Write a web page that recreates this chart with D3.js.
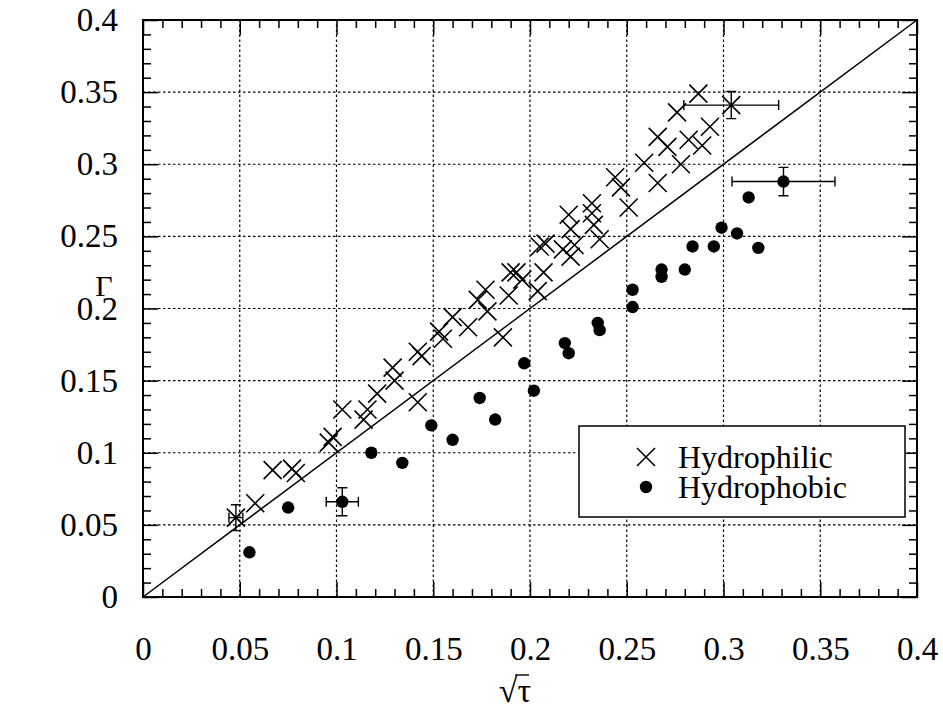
<!DOCTYPE html>
<html>
<head>
<meta charset="utf-8">
<script src="https://cdn.jsdelivr.net/npm/d3@7"></script>
<style>
  body { margin: 0; background: #fff; }
  text { font-family: "Liberation Serif", "Times New Roman", serif; fill: #000; }
</style>
</head>
<body>
<svg id="chart" width="943" height="710"></svg>
<script>
// Γ versus √τ for hydrophilic (crosses) and hydrophobic (dots) surfaces
const hydrophilic = [
  [0.048, 0.055], [0.058, 0.065], [0.067, 0.088], [0.077, 0.089], [0.079, 0.086],
  [0.096, 0.107], [0.098, 0.111], [0.103, 0.130], [0.114, 0.123], [0.116, 0.130],
  [0.121, 0.141], [0.129, 0.159], [0.130, 0.150], [0.142, 0.135], [0.142, 0.170],
  [0.144, 0.167], [0.153, 0.184], [0.155, 0.179], [0.160, 0.194], [0.168, 0.187],
  [0.173, 0.206], [0.177, 0.213], [0.178, 0.198], [0.186, 0.180], [0.189, 0.209],
  [0.190, 0.225], [0.193, 0.225], [0.196, 0.220], [0.204, 0.212], [0.207, 0.225],
  [0.205, 0.243], [0.208, 0.245], [0.217, 0.241], [0.221, 0.236], [0.223, 0.244],
  [0.220, 0.265], [0.221, 0.255], [0.232, 0.273], [0.232, 0.266], [0.233, 0.258],
  [0.236, 0.248], [0.244, 0.291], [0.247, 0.284], [0.251, 0.270], [0.259, 0.301],
  [0.266, 0.319], [0.271, 0.312], [0.266, 0.287], [0.278, 0.300], [0.276, 0.336],
  [0.282, 0.317], [0.289, 0.313], [0.293, 0.326], [0.287, 0.349], [0.304, 0.341]
];
const hydrophobic = [
  [0.055, 0.031], [0.075, 0.062], [0.103, 0.066], [0.118, 0.100], [0.134, 0.093],
  [0.149, 0.119], [0.160, 0.109], [0.174, 0.138], [0.182, 0.123], [0.197, 0.162],
  [0.202, 0.143], [0.218, 0.176], [0.220, 0.169], [0.235, 0.190], [0.236, 0.185],
  [0.253, 0.213], [0.253, 0.201], [0.268, 0.227], [0.268, 0.222], [0.280, 0.227],
  [0.284, 0.243], [0.295, 0.243], [0.299, 0.256], [0.307, 0.252], [0.318, 0.242],
  [0.313, 0.277], [0.331, 0.288]
];
// error bars: centre, half-width in x, half-height in y
const hydrophilicErr = [
  [0.048, 0.055, 0.0036, 0.009],
  [0.304, 0.341, 0.0245, 0.0094]
];
const hydrophobicErr = [
  [0.103, 0.066, 0.0083, 0.0097],
  [0.331, 0.288, 0.0266, 0.0098]
];
const majorTicks = [0, 0.05, 0.1, 0.15, 0.2, 0.25, 0.3, 0.35, 0.4];
const tickLabels = ["0", "0.05", "0.1", "0.15", "0.2", "0.25", "0.3", "0.35", "0.4"];
const minorTicks = d3.range(0, 41).map(i => i / 100).filter(v => Math.round(v * 100) % 5 !== 0);
const legendLabels = ["Hydrophilic", "Hydrophobic"];

const svg = d3.select("#chart");
const x = d3.scaleLinear().domain([0, 0.4]).range([143, 917]);
const y = d3.scaleLinear().domain([0, 0.4]).range([597, 20]);
const [x0, x1] = x.range();
const [y0, y1] = y.range();

// dotted grid
const grid = svg.append("g")
  .attr("stroke", "#000").attr("stroke-width", 1.2).attr("stroke-dasharray", "2.5,2.5");
grid.selectAll("line.v").data(majorTicks.slice(1, -1)).join("line")
  .attr("x1", d => x(d)).attr("x2", d => x(d)).attr("y1", y0).attr("y2", y1);
grid.selectAll("line.h").data(majorTicks.slice(1, -1)).join("line")
  .attr("y1", d => y(d)).attr("y2", d => y(d)).attr("x1", x0).attr("x2", x1);

// inward ticks on all four sides
function addAxis(axis, transform, values, size, labels) {
  const g = svg.append("g").attr("transform", transform)
    .call(axis.tickValues(values).tickSize(-size)
      .tickFormat(labels ? (d, i) => labels[i] : ""));
  g.select(".domain").remove();
  g.selectAll(".tick line").attr("stroke", "#000").attr("stroke-width", 1.5);
  return g;
}
const xb = addAxis(d3.axisBottom(x).tickPadding(40), `translate(0,${y0})`, majorTicks, 15, tickLabels);
addAxis(d3.axisBottom(x), `translate(0,${y0})`, minorTicks, 8);
addAxis(d3.axisTop(x), `translate(0,${y1})`, majorTicks, 15);
addAxis(d3.axisTop(x), `translate(0,${y1})`, minorTicks, 8);
const yl = addAxis(d3.axisLeft(y).tickPadding(25), `translate(${x0},0)`, majorTicks, 15, tickLabels);
addAxis(d3.axisLeft(y), `translate(${x0},0)`, minorTicks, 8);
addAxis(d3.axisRight(y), `translate(${x1},0)`, majorTicks, 15);
addAxis(d3.axisRight(y), `translate(${x1},0)`, minorTicks, 8);
[xb, yl].forEach(g => g.selectAll("text")
  .attr("font-family", "Liberation Serif, serif").attr("font-size", 33).attr("fill", "#000"));

// frame
svg.append("rect").attr("x", x0).attr("y", y1).attr("width", x1 - x0).attr("height", y0 - y1)
  .attr("fill", "none").attr("stroke", "#000").attr("stroke-width", 2);

// Γ = √τ reference line
svg.append("line")
  .attr("x1", x(0)).attr("y1", y(0)).attr("x2", x(0.4)).attr("y2", y(0.4))
  .attr("stroke", "#000").attr("stroke-width", 1.5);

// error bars
function errorBars(data) {
  const g = svg.append("g").attr("stroke", "#000").attr("stroke-width", 1.4).attr("fill", "none");
  const cap = 5;
  g.selectAll("path").data(data).join("path").attr("d", ([cx, cy, dx, dy]) => {
    const px = x(cx), py = y(cy), xl = x(cx - dx), xr = x(cx + dx), yt = y(cy + dy), yb = y(cy - dy);
    return `M${xl},${py}H${xr}M${xl},${py - cap}V${py + cap}M${xr},${py - cap}V${py + cap}` +
           `M${px},${yt}V${yb}M${px - cap},${yt}H${px + cap}M${px - cap},${yb}H${px + cap}`;
  });
}
errorBars(hydrophilicErr);
errorBars(hydrophobicErr);

// markers
const cross = "M-9,-9L9,9M-9,9L9,-9";
svg.append("g").selectAll("path").data(hydrophilic).join("path")
  .attr("transform", d => `translate(${x(d[0])},${y(d[1])})`)
  .attr("d", cross).attr("stroke", "#000").attr("stroke-width", 1.6).attr("fill", "none");
svg.append("g").selectAll("circle").data(hydrophobic).join("circle")
  .attr("cx", d => x(d[0])).attr("cy", d => y(d[1])).attr("r", 6.2).attr("fill", "#000");

// legend
const lg = svg.append("g");
lg.append("rect").attr("x", 579).attr("y", 426).attr("width", 326).attr("height", 91)
  .attr("fill", "#fff").attr("stroke", "#000").attr("stroke-width", 1.5);
lg.append("path").attr("d", cross).attr("transform", "translate(646,457)")
  .attr("stroke", "#000").attr("stroke-width", 1.6).attr("fill", "none");
lg.append("circle").attr("cx", 646).attr("cy", 487).attr("r", 6.2).attr("fill", "#000");
lg.selectAll("text").data(legendLabels).join("text")
  .attr("x", 678).attr("y", (d, i) => 457 + i * 30).attr("dy", "0.33em")
  .attr("font-size", 32).text(d => d);

// axis titles
svg.append("text").attr("x", 104).attr("y", 285).attr("dy", "0.35em")
  .attr("text-anchor", "middle").attr("font-size", 30).text("Γ");
const xt = svg.append("g").attr("transform", "translate(515,702)");
xt.append("text").attr("text-anchor", "middle").attr("font-size", 34).text("√τ");
xt.append("line").attr("x1", 0).attr("x2", 14).attr("y1", -27).attr("y2", -27)
  .attr("stroke", "#000").attr("stroke-width", 1.4);
</script>
</body>
</html>
